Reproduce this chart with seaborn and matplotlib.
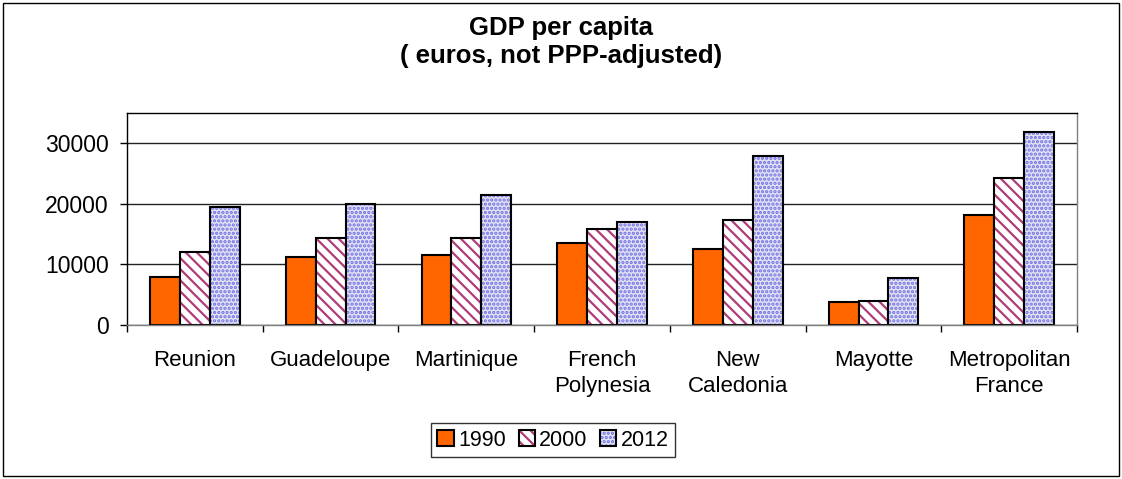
import seaborn as sns
import matplotlib.pyplot as plt
import matplotlib.patches as mpatches
import pandas as pd

# GDP per capita, euros
regions = ["Reunion", "Guadeloupe", "Martinique", "French\nPolynesia",
           "New\nCaledonia", "Mayotte", "Metropolitan\nFrance"]
years = ["1990", "2000", "2012"]
gdp_1990 = [8000, 11300, 11500, 13600, 12500, 3800, 18200]
gdp_2000 = [12000, 14400, 14300, 15900, 17400, 3900, 24300]
gdp_2012 = [19500, 20000, 21500, 17000, 27900, 7700, 31800]
yticks = [0, 10000, 20000, 30000]

df = pd.DataFrame({
    "region": regions * 3,
    "year": [y for y in years for _ in regions],
    "gdp": gdp_1990 + gdp_2000 + gdp_2012,
})

sns.set_theme(style="white")
plt.rcParams["font.family"] = ["Liberation Sans", "DejaVu Sans"]
plt.rcParams["hatch.linewidth"] = 1.6
plt.rcParams["text.color"] = "black"
plt.rcParams["xtick.labelcolor"] = "black"
plt.rcParams["ytick.labelcolor"] = "black"

# face colour, hatch, hatch colour for each year
styles = {
    "1990": ("#ff6600", None, "#ff6600"),
    "2000": ("white", "\\\\\\", "#b03c78"),
    "2012": ("#e2e2f0", "....", "#7070e8"),
}

fig = plt.figure(figsize=(11.22, 4.79), dpi=100)
ax = fig.add_axes([0.1132, 0.3215, 0.8468, 0.4425])

sns.barplot(data=df, x="region", y="gdp", hue="year", hue_order=years,
            order=regions, palette=[styles[y][0] for y in years],
            width=0.66, gap=0, saturation=1, legend=False, ax=ax)

for year, cont in zip(years, ax.containers):
    face, hatch, hcolor = styles[year]
    for bar in cont:
        bar.set_facecolor(face)
        bar.set_edgecolor("black")
        bar.set_linewidth(1.5)
        if hatch:
            bar.set_hatch(hatch)
            bar._hatch_color = plt.matplotlib.colors.to_rgba(hcolor)

ax.set_ylim(0, 35000)
ax.set_xlim(-0.5, len(regions) - 0.5)
ax.set_yticks(yticks)
ax.set_xlabel("")
ax.set_ylabel("")
ax.grid(axis="y", color="#222222", linewidth=1)
ax.set_axisbelow(True)

for side in ["left", "top"]:
    ax.spines[side].set_color("black")
for side in ["right", "bottom"]:
    ax.spines[side].set_color("#808080")
for s in ax.spines.values():
    s.set_linewidth(1)

ax.set_xticks([i - 0.5 for i in range(len(regions) + 1)], minor=True)
ax.tick_params(axis="x", which="major", length=0, pad=18, labelsize=16,
               labelcolor="black")
ax.tick_params(axis="x", which="minor", length=5, width=1, color="black",
               direction="out", bottom=True)
ax.tick_params(axis="y", length=5, width=1, color="black", direction="out",
               left=True, pad=8, labelsize=16.5, labelcolor="black")
for lab in ax.get_xticklabels():
    lab.set_linespacing(1.3)
    lab.set_verticalalignment("top")

fig.suptitle("GDP per capita\n( euros, not PPP-adjusted)", fontsize=18.5,
             fontweight="bold", y=0.966, linespacing=1.2, color="black")

leg = ax.legend(handles=[c for c in ax.containers], labels=years, ncol=3,
                loc="center", bbox_to_anchor=(0.493, 0.081),
                bbox_transform=fig.transFigure, fontsize=15.5,
                frameon=True, fancybox=False, edgecolor="black",
                handlelength=0.75, handleheight=0.75, handletextpad=0.2,
                columnspacing=0.6, borderpad=0.3, borderaxespad=0)
leg.get_frame().set_linewidth(1)

fig.patches.append(mpatches.Rectangle((0.003, 0.006), 0.994, 0.988,
                                      transform=fig.transFigure, fill=False,
                                      edgecolor="black", linewidth=1))

fig.savefig("out.png", dpi=100)
